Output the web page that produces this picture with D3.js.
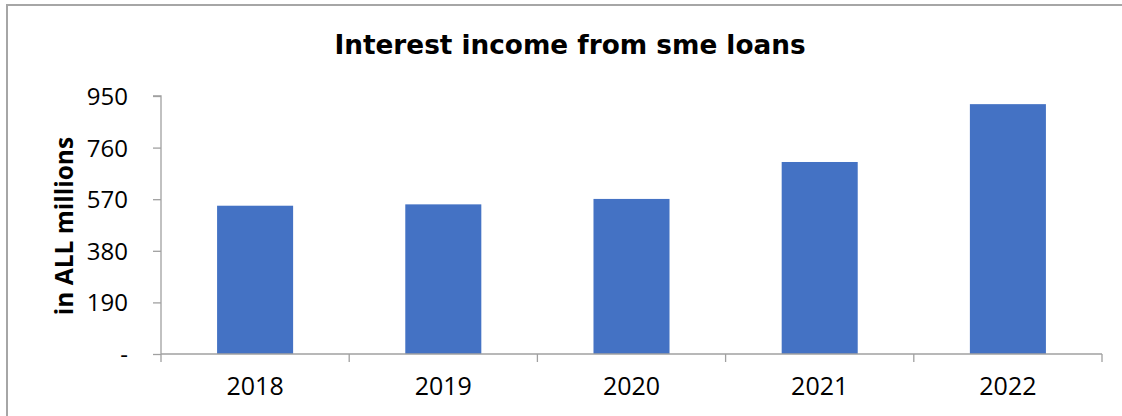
<!DOCTYPE html>
<html>
<head>
<meta charset="utf-8">
<script src="https://cdn.jsdelivr.net/npm/d3@7/dist/d3.min.js"></script>
<style>
  html, body { margin: 0; padding: 0; background: #fff; }
  svg { display: block; }
</style>
</head>
<body>
<svg id="chart" width="1122" height="416"></svg>
<script>
// Interest income from SME loans, ALL millions
const years = ["2018", "2019", "2020", "2021", "2022"];
const income = [546, 551, 571, 707, 920];
const yTicks = [0, 190, 380, 570, 760, 950];
const yTickLabels = ["-", "190", "380", "570", "760", "950"];

const svg = d3.select("#chart");
const W = 1122, H = 416;
const plot = { left: 161, right: 1102, top: 96, bottom: 354 };

// chart frame (open to the right and bottom edge)
svg.append("rect")
  .attr("x", 7).attr("y", 5)
  .attr("width", W + 10).attr("height", H + 10)
  .attr("fill", "#fff")
  .attr("stroke", "#a6a6a6").attr("stroke-width", 2);

const x = d3.scaleBand().domain(years).range([plot.left, plot.right]).padding(0);
const y = d3.scaleLinear().domain([0, 950]).range([plot.bottom, plot.top]);

const barRatio = 0.404;
const barW = x.bandwidth() * barRatio;

svg.append("g").selectAll("rect")
  .data(years.map((yr, i) => ({ yr, v: income[i] })))
  .join("rect")
  .attr("x", d => x(d.yr) + (x.bandwidth() - barW) / 2)
  .attr("y", d => y(d.v))
  .attr("width", barW)
  .attr("height", d => y(0) - y(d.v))
  .attr("fill", "#4472c4");

const axisColor = "#a0a0a0";
const tickFont = "'Open Sans', 'Noto Sans', sans-serif";

// y axis
const yAxis = svg.append("g")
  .attr("transform", `translate(${plot.left},0)`)
  .call(d3.axisLeft(y).tickValues(yTicks).tickSize(8).tickPadding(25)
    .tickFormat((d, i) => yTickLabels[i]));
yAxis.select(".domain").attr("stroke", axisColor).attr("stroke-width", 1.3)
  .attr("d", `M-8,${plot.top}H0V${plot.bottom}`);
yAxis.selectAll(".tick line").attr("stroke", axisColor).attr("stroke-width", 1.3);
yAxis.selectAll(".tick text")
  .attr("fill", "#000").attr("font-family", tickFont).attr("font-size", 24)
  .attr("dy", "0.35em");

// x axis: ticks sit on category boundaries
const bounds = years.map(d => x(d)).concat([plot.right]);
const xAxis = svg.append("g").attr("transform", `translate(0,${plot.bottom})`);
xAxis.append("line")
  .attr("x1", plot.left).attr("x2", plot.right)
  .attr("y1", 0).attr("y2", 0)
  .attr("stroke", axisColor).attr("stroke-width", 1.3);
xAxis.selectAll("line.tk").data(bounds).join("line")
  .attr("class", "tk")
  .attr("x1", d => d).attr("x2", d => d)
  .attr("y1", 0).attr("y2", 8)
  .attr("stroke", axisColor).attr("stroke-width", 1.3);
xAxis.selectAll("text").data(years).join("text")
  .attr("x", d => x(d) + x.bandwidth() / 2)
  .attr("y", 41)
  .attr("text-anchor", "middle")
  .attr("font-family", tickFont).attr("font-size", 25)
  .attr("fill", "#000")
  .text(d => d);

// title
svg.append("text")
  .attr("x", 570).attr("y", 54)
  .attr("text-anchor", "middle")
  .attr("font-family", "'DejaVu Sans', Verdana, sans-serif")
  .attr("font-weight", "bold")
  .attr("font-size", 26.3)
  .attr("fill", "#000")
  .text("Interest income from sme loans");

// y axis title
svg.append("text")
  .attr("transform", "translate(73,226) rotate(-90)")
  .attr("text-anchor", "middle")
  .attr("font-family", "'Open Sans', 'Noto Sans', sans-serif")
  .attr("font-weight", "bold")
  .attr("font-size", 24.5)
  .attr("fill", "#000")
  .text("in ALL millions");
</script>
</body>
</html>
